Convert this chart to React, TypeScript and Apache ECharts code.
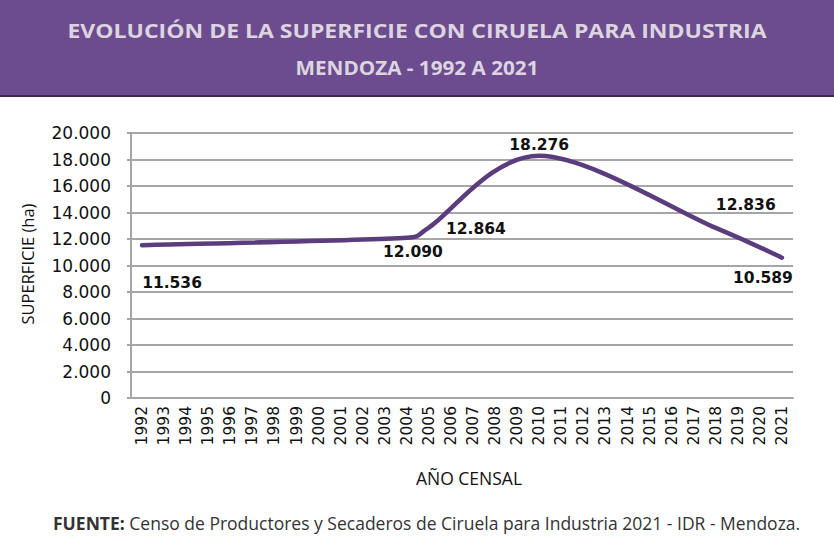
import React, { useEffect, useRef } from "react";
import * as echarts from "echarts";

const years = [
  "1992", "1993", "1994", "1995", "1996", "1997", "1998", "1999", "2000", "2001",
  "2002", "2003", "2004", "2005", "2006", "2007", "2008", "2009", "2010", "2011",
  "2012", "2013", "2014", "2015", "2016", "2017", "2018", "2019", "2020", "2021",
];
// census values (ha)
const censusYears = ["1992", "2004", "2005", "2010", "2018", "2021"];
const censusValues = [11536, 12090, 12864, 18276, 12836, 10589];
// label offsets relative to each point [dx, dy]
const labelOffsets = [
  [30, 38],
  [6, 14],
  [47, 1],
  [0, -11],
  [30, -23],
  [-19, 20],
];
const yTicks = { min: 0, max: 20000, interval: 2000 };

const titleText = "EVOLUCIÓN DE LA SUPERFICIE CON CIRUELA PARA INDUSTRIA";
const subtitleText = "MENDOZA - 1992 A 2021";
const yAxisTitle = "SUPERFICIE (ha)";
const xAxisTitle = "AÑO CENSAL";
const sourceLabel = "FUENTE:";
const sourceText = " Censo de Productores y Secaderos de Ciruela para Industria 2021 - IDR - Mendoza.";

const fmt = (v: number) => String(Math.round(v)).replace(/\B(?=(\d{3})+(?!\d))/g, ".");

// Excel-like smoothed path (Catmull-Rom, arms = chord/6, clamped to part of the adjacent segment)
function smoothPath(pts: number[][]): string {
  const n = pts.length;
  const dist = (a: number[], b: number[]) => Math.hypot(b[0] - a[0], b[1] - a[1]);
  let d = `M${pts[0][0]},${pts[0][1]}`;
  const tangent = (i: number) => {
    const p = pts[Math.max(0, i - 1)];
    const q = pts[Math.min(n - 1, i + 1)];
    return [(q[0] - p[0]) / 6, (q[1] - p[1]) / 6];
  };
  const clampArm = (t: number[], maxLen: number) => {
    const len = Math.hypot(t[0], t[1]);
    if (len <= maxLen || len === 0) return t;
    return [(t[0] / len) * maxLen, (t[1] / len) * maxLen];
  };
  for (let i = 0; i < n - 1; i++) {
    const a = pts[i];
    const b = pts[i + 1];
    const seg = dist(a, b);
    const t1 = clampArm(tangent(i), seg * 0.6);
    const t2 = clampArm(tangent(i + 1), seg * 0.6);
    d += ` C${a[0] + t1[0]},${a[1] + t1[1]} ${b[0] - t2[0]},${b[1] - t2[1]} ${b[0]},${b[1]}`;
  }
  return d;
}

export default function App() {
  const ref = useRef<HTMLDivElement>(null);
  useEffect(() => {
    document.body.style.margin = "0";
    const chart = echarts.init(ref.current!, undefined, { renderer: "svg" });
    const labelData = years.map((y) => {
      const i = censusYears.indexOf(y);
      if (i < 0) return null;
      return {
        value: censusValues[i],
        label: {
          show: true,
          position: "inside",
          offset: labelOffsets[i],
          formatter: () => fmt(censusValues[i]),
        },
      };
    });
    const curveData = censusYears.map((y, i) => [years.indexOf(y), censusValues[i]]);
    chart.setOption({
      animation: false,
      backgroundColor: "#ffffff",
      grid: { left: 131, right: 41, top: 133, bottom: 142 },
      xAxis: {
        type: "category",
        data: years,
        boundaryGap: true,
        axisLine: { show: true, lineStyle: { color: "#a6a6a6", width: 2 } },
        axisTick: { show: false },
        axisLabel: {
          rotate: 90,
          interval: 0,
          color: "#111",
          fontFamily: "DejaVu Sans",
          fontSize: 15.5,
          margin: 8,
        },
      },
      yAxis: {
        type: "value",
        min: yTicks.min,
        max: yTicks.max,
        interval: yTicks.interval,
        axisLine: { show: true, lineStyle: { color: "#a6a6a6", width: 2 } },
        axisTick: { show: true, length: 4, lineStyle: { color: "#a6a6a6", width: 2 } },
        splitLine: { show: true, lineStyle: { color: "#a6a6a6", width: 2 } },
        axisLabel: {
          color: "#111",
          fontFamily: "DejaVu Sans",
          fontSize: 17,
          margin: 20,
          formatter: (v: number) => fmt(v),
        },
      },
      series: [
        {
          type: "custom",
          data: curveData,
          z: 3,
          renderItem: (params: any, api: any) => {
            if (params.dataIndex !== 0) return null;
            const pts = curveData.map((d) => api.coord(d));
            return {
              type: "path",
              shape: { pathData: smoothPath(pts) },
              style: {
                fill: "none",
                stroke: "#5b3c7c",
                lineWidth: 4.5,
                lineCap: "round",
                lineJoin: "round",
              },
            };
          },
        },
        {
          type: "line",
          data: labelData,
          connectNulls: true,
          symbol: "circle",
          symbolSize: 1,
          z: 4,
          itemStyle: { color: "rgba(0,0,0,0)" },
          lineStyle: { opacity: 0 },
          label: {
            color: "#111",
            fontFamily: "DejaVu Sans",
            fontWeight: "bold",
            fontSize: 15.5,
          },
        },
      ],
      graphic: [
        {
          type: "rect",
          left: 0,
          top: 0,
          shape: { width: 834, height: 95 },
          style: { fill: "#6c4c8e" },
          z: 0,
        },
        {
          type: "rect",
          left: 0,
          top: 95,
          shape: { width: 834, height: 2 },
          style: { fill: "#3a2c47" },
          z: 0,
        },
        {
          type: "text",
          x: 417,
          y: 30,
          scaleX: 1.15,
          style: {
            text: titleText,
            fill: "#dcd5e0",
            font: "bold 20px 'Open Sans'",
            textAlign: "center",
            textVerticalAlign: "middle",
          },
          z: 10,
        },
        {
          type: "text",
          x: 417,
          y: 68,
          scaleX: 1.09,
          style: {
            text: subtitleText,
            fill: "#dcd5e0",
            font: "bold 19px 'Open Sans'",
            textAlign: "center",
            textVerticalAlign: "middle",
          },
          z: 10,
        },
        {
          type: "text",
          x: 27,
          y: 264,
          rotation: Math.PI / 2,
          style: {
            text: yAxisTitle,
            fill: "#111",
            font: "16.5px 'Open Sans'",
            textAlign: "center",
            textVerticalAlign: "middle",
          },
        },
        {
          type: "text",
          x: 469,
          y: 478,
          style: {
            text: xAxisTitle,
            fill: "#111",
            font: "17.5px 'Open Sans'",
            textAlign: "center",
            textVerticalAlign: "middle",
          },
        },
        {
          type: "text",
          x: 53,
          y: 523,
          style: {
            text: "{b|" + sourceLabel + "}{r|" + sourceText + "}",
            textVerticalAlign: "middle",
            rich: {
              b: { font: "bold 17.5px 'Open Sans'", fill: "#333" },
              r: { font: "17.5px 'Open Sans'", fill: "#333" },
            },
          },
        },
      ],
    });
    return () => chart.dispose();
  }, []);
  return <div ref={ref} style={{ width: 834, height: 540 }} />;
}
